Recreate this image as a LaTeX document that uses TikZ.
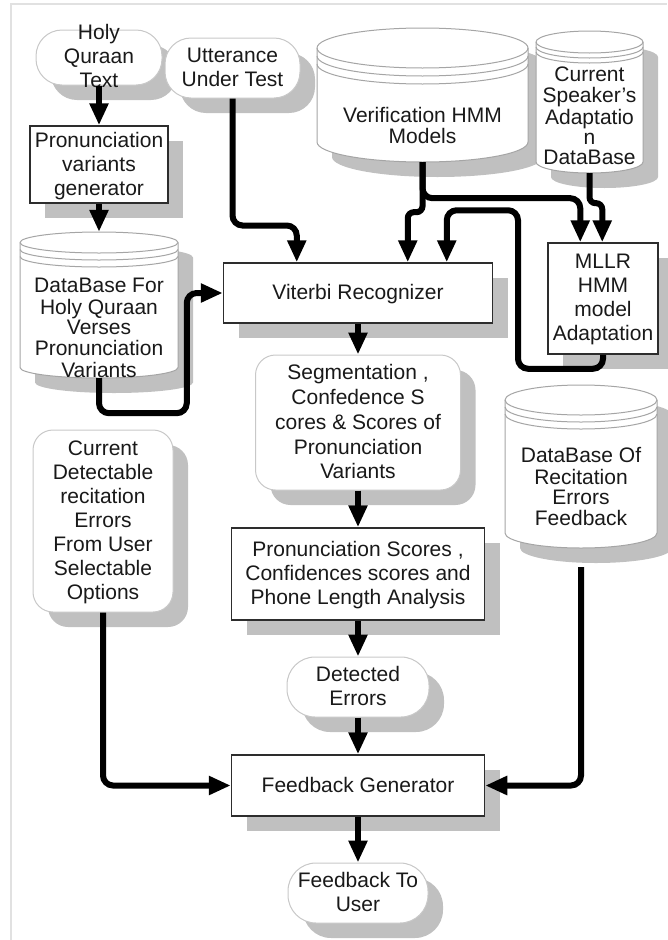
\documentclass[tikz,border=0pt]{standalone}
\usepackage{fontspec}
\setmainfont{Liberation Sans}
\usetikzlibrary{arrows.meta,shadows,calc}
\pgfdeclarelayer{bg}
\pgfsetlayers{bg,main}
\definecolor{shadowc}{RGB}{192,192,192}
\definecolor{boxline}{RGB}{45,45,45}
\definecolor{rndline}{RGB}{200,200,200}
\definecolor{cylline}{RGB}{165,165,165}
\definecolor{framec}{RGB}{225,225,225}
\definecolor{txt}{RGB}{25,25,25}
\newcommand\boxtxt[2][0]{\raisebox{\dimexpr-7pt-#1pt\relax}[0pt][0pt]{\begin{tabular}{@{}c@{}}#2\end{tabular}}}
% cylinder: name, xl, ytop, xr, ybot, ry, rim gap, text offset, text
\newcommand\dbcyl[9]{%
  \node[cyl, minimum width={(#4-#2)*1pt}, minimum height={(#5-#3)*1pt}] (#1) at ({(#2+#4)/2},{(#3+#5)/2}) {\boxtxt[#8]{#9}};
  \begin{pgfonlayer}{bg}
    \fill[shadowc] (#2+15,#3+#6+15) -- (#2+15,#5-#6+15)
      arc[start angle=180,end angle=360,x radius={(#4-#2)/2*1pt},y radius=#6pt]
      -- (#4+15,#3+#6+15)
      arc[start angle=0,end angle=180,x radius={(#4-#2)/2*1pt},y radius=#6pt] -- cycle;
    \filldraw[cylbody] (#2,#3+#6) -- (#2,#5-#6)
      arc[start angle=180,end angle=360,x radius={(#4-#2)/2*1pt},y radius=#6pt]
      -- (#4,#3+#6)
      arc[start angle=0,end angle=180,x radius={(#4-#2)/2*1pt},y radius=#6pt] -- cycle;
    \draw[rimline] (#2,#3+#6) arc[start angle=180,end angle=360,x radius={(#4-#2)/2*1pt},y radius=#6pt];
    \draw[rimline] (#2,#3+#6+#7) arc[start angle=180,end angle=360,x radius={(#4-#2)/2*1pt},y radius=#6pt];
    \draw[rimline] (#2,#3+#6+2*#7) arc[start angle=180,end angle=360,x radius={(#4-#2)/2*1pt},y radius=#6pt];
  \end{pgfonlayer}}
\begin{document}
\begin{tikzpicture}[x=1pt,y=-1pt,
  font=\fontsize{21}{24}\selectfont, text=txt,
  conn/.style={line width=6pt,-{Triangle[length=22pt,width=18pt]},rounded corners=10pt},
  shad/.style={drop shadow={shadow xshift=15pt,shadow yshift=-15pt,fill=shadowc,opacity=1}},
  rectbox/.style={draw=boxline,line width=1.5pt,fill=white,inner sep=0pt,shad},
  rndbox/.style={draw=rndline,line width=1pt,fill=white,inner sep=0pt,rounded corners=#1,shad},
  cyl/.style={inner sep=0pt,font=\fontsize{21}{20}\selectfont},
  cylbody/.style={fill=white,draw=cylline,line width=1pt},
  rimline/.style={draw=cylline,line width=1pt}]
\useasboundingbox (0,0) rectangle (667,940);
\draw[framec,line width=1.5pt] (11,940) -- (11,4) -- (667,4);

\node[rndbox=26pt,minimum width=126pt,minimum height=55pt] (hq) at (99,57.5) {\boxtxt[-1]{Holy\\Quraan\\Text}};
\node[rndbox=26pt,minimum width=135pt,minimum height=60pt] (utt) at (232.5,68) {\boxtxt{Utterance\\Under Test}};
\node[rectbox,minimum width=138pt,minimum height=77pt] (pvg) at (99,164.5) {\boxtxt{Pronunciation\\variants\\generator}};

\dbcyl{vhmm}{317}{28}{528}{162}{20}{8}{31.5}{Verification HMM\\Models}
\dbcyl{csa}{536}{31}{643}{173}{11}{5}{15}{Current\\Speaker's\\Adaptatio\\n\\DataBase}
\dbcyl{dbq}{20}{232}{178}{378}{10.5}{7}{24}{DataBase For\\Holy Quraan\\Verses\\Pronunciation\\Variants}
\dbcyl{dbr}{505}{385}{657}{548}{15}{7}{21.5}{DataBase Of\\Recitation\\Errors\\Feedback}

\node[rectbox,minimum width=269pt,minimum height=60pt] (vit) at (358,293) {\boxtxt{Viterbi Recognizer}};
\node[rectbox,minimum width=110pt,minimum height=111pt] (mllr) at (603,298.5) {\boxtxt[-1]{MLLR\\HMM\\model\\Adaptation}};
\node[rndbox=20pt,minimum width=205pt,minimum height=135pt,font=\fontsize{21}{24.75}\selectfont] (seg) at (358,422.5) {\boxtxt{Segmentation ,\\Confedence S\\cores \& Scores of\\Pronunciation\\Variants}};
\node[rndbox=20pt,minimum width=140pt,minimum height=182pt] (cde) at (103,521) {\boxtxt{Current\\Detectable\\recitation\\Errors\\From User\\Selectable\\Options}};
\node[rectbox,minimum width=253pt,minimum height=92pt] (ps) at (358,574) {\boxtxt{Pronunciation Scores ,\\Confidences scores and\\Phone Length Analysis}};
\node[rndbox=28pt,minimum width=142pt,minimum height=60pt] (det) at (358,687) {\boxtxt{Detected\\Errors}};
\node[rectbox,minimum width=253pt,minimum height=61pt] (fg) at (358,785.5) {\boxtxt{Feedback Generator}};
\node[rndbox=28pt,minimum width=140pt,minimum height=60pt] (ftu) at (358,893) {\boxtxt{Feedback To\\User}};

\draw[conn] (hq.south) -- (pvg.north);
\draw[conn] (pvg.south) -- (dbq.north);
\draw[conn] (dbq.south) -- ++(0,35) -| ($(vit.west)+(-36,0)$) -- (vit.west);
\draw[conn] (utt.south) -- ++(0,127) -| ($(vit.north west)+(74,0)$);
\draw[conn,rounded corners=6pt] (vhmm.south) -- ++(0,50) -| ($(vit.north west)+(185,0)$);
\draw[conn] (vhmm.south) -- ++(0,36) -| ($(mllr.north west)+(33,0)$);
\draw[conn,rounded corners=6pt] (csa.south) -- ++(0,30) -| ($(mllr.north west)+(55,0)$);
\draw[conn] (mllr.south) -- ++(0,14) -- ++(-85,0) |- ($(vit.north west)+(224,-52)$) -- ($(vit.north west)+(224,0)$);
\draw[conn] (vit.south) -- (seg.north);
\draw[conn] (seg.south) -- (ps.north);
\draw[conn] (ps.south) -- (det.north);
\draw[conn] (det.south) -- (fg.north);
\draw[conn] (fg.south) -- (ftu.north);
\draw[conn] (cde.south) |- (fg.west);
\draw[conn] ([yshift=-19pt]dbr.south) |- (fg.east);
\end{tikzpicture}
\end{document}
